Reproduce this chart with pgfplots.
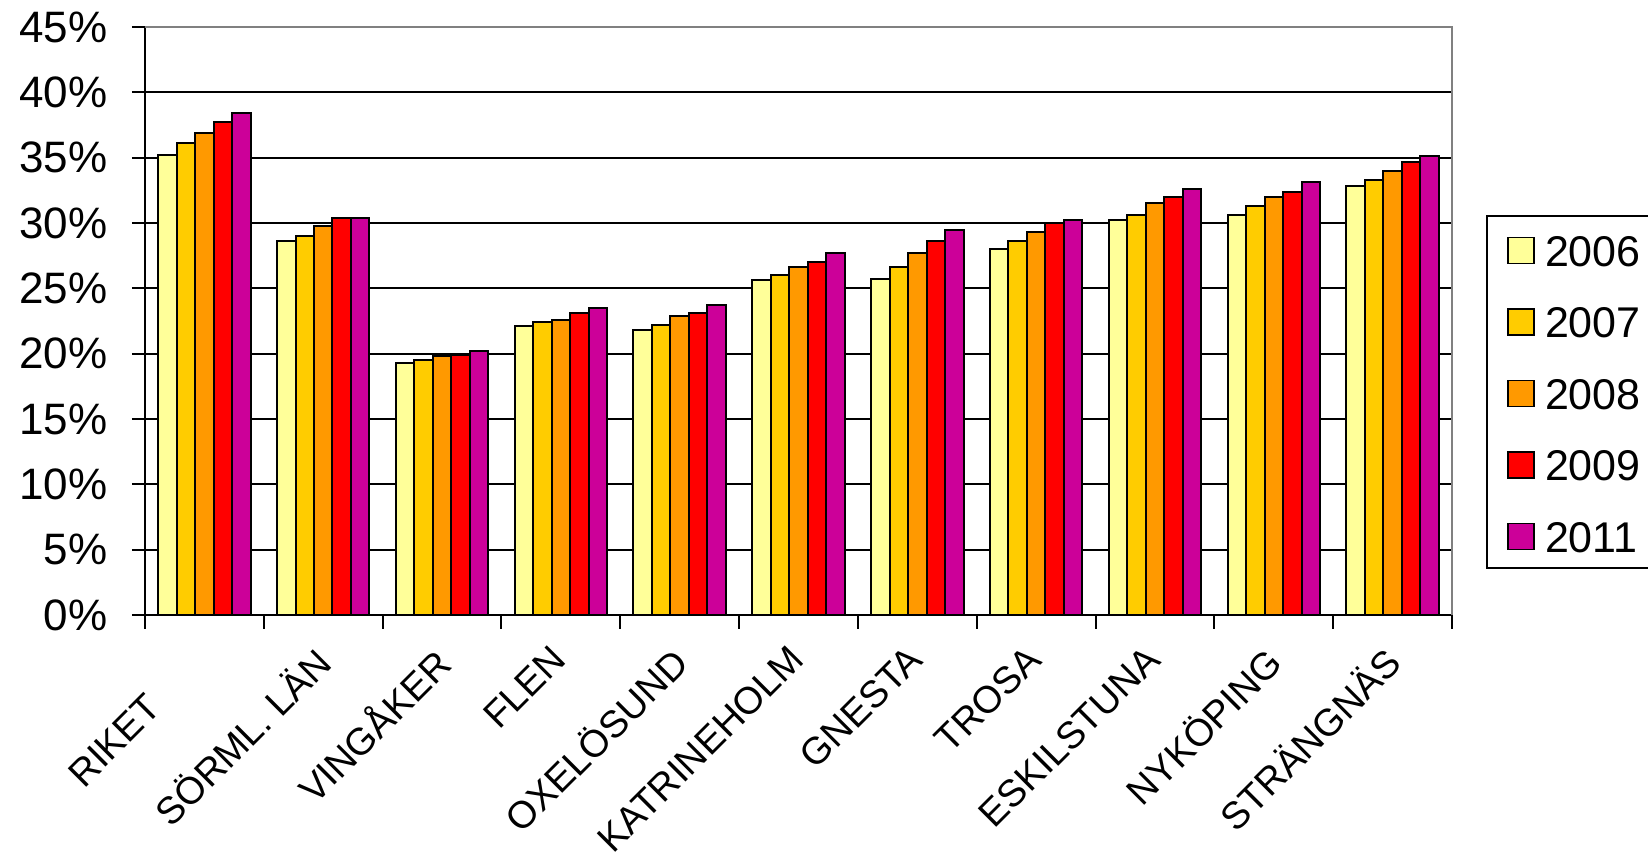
\documentclass[border=0pt]{standalone}
\usepackage{pgfplots}
\pgfplotsset{compat=1.18}
\usepackage{fontspec}
\setmainfont{Liberation Sans}
\definecolor{cA}{HTML}{FFFF99}
\definecolor{cB}{HTML}{FFCC00}
\definecolor{cC}{HTML}{FF9900}
\definecolor{cD}{HTML}{FF0000}
\definecolor{cE}{HTML}{CC0099}
\begin{document}
\begin{tikzpicture}
\useasboundingbox (-72.5pt,-123pt) rectangle (751.5pt,307.5pt);
\begin{axis}[
  at={(0,0)}, anchor=south west,
  scale only axis, width=653.5pt, height=294pt,
  xmin=-0.5, xmax=10.5, ymin=0, ymax=45,
  clip=false,
  ybar, bar width=0.1555,
  axis x line*=bottom, axis y line*=left,
  axis line style={black, line width=1pt},
  xtick={0,...,10},
  xticklabels={RIKET\hspace{34pt}\null,SÖRML. LÄN,VINGÅKER,FLEN,OXELÖSUND,KATRINEHOLM,GNESTA,TROSA,ESKILSTUNA,NYKÖPING,STRÄNGNÄS},
  major x tick style={draw=none},
  minor xtick={-0.5,0.5,...,10.5},
  minor tick length=7pt,
  xtick align=outside,
  x tick style={black, line width=1pt},
  ytick={0,5,...,45},
  yticklabels={0\%,5\%,10\%,15\%,20\%,25\%,30\%,35\%,40\%,45\%},
  ytick align=center,
  major tick length=13pt,
  y tick style={black, line width=1pt},
  ymajorgrids, grid style={black, line width=1pt},
  yticklabel style={font=\fontsize{22}{26}\selectfont, anchor=east, inner sep=0pt, xshift=-12.1pt},
  xticklabel style={font=\fontsize{19}{22}\selectfont, inner sep=0pt, xshift=-5.8pt, yshift=-1pt, rotate=45, anchor=north east},
  legend style={at={(axis description cs:1.0268,0.6786)}, anchor=north west,
    draw=none, fill=none, inner xsep=10pt, inner ysep=9pt, row sep=19.75pt,
    font=\fontsize{21.5}{24}\selectfont,
    nodes={inner sep=0pt, text height=16pt, text depth=0pt},
    /tikz/every odd column/.append style={column sep=5pt}},
  legend cell align=left,
  legend image code/.code={\draw[#1, draw=black, line width=0.8pt] (0pt,-6.5pt) rectangle (13pt,6.5pt);},
  every axis plot/.append style={draw=black, line width=1pt},
]
\addplot[fill=cA, bar shift=-0.311] coordinates {(0,35.2) (1,28.6) (2,19.3) (3,22.1) (4,21.8) (5,25.6) (6,25.7) (7,28.0) (8,30.2) (9,30.6) (10,32.8)};
\addplot[fill=cB, bar shift=-0.1555] coordinates {(0,36.1) (1,29.0) (2,19.5) (3,22.4) (4,22.2) (5,26.0) (6,26.6) (7,28.6) (8,30.6) (9,31.3) (10,33.3)};
\addplot[fill=cC, bar shift=0] coordinates {(0,36.9) (1,29.8) (2,19.8) (3,22.6) (4,22.9) (5,26.6) (6,27.7) (7,29.3) (8,31.5) (9,32.0) (10,34.0)};
\addplot[fill=cD, bar shift=0.1555] coordinates {(0,37.7) (1,30.4) (2,19.9) (3,23.1) (4,23.1) (5,27.0) (6,28.6) (7,30.0) (8,32.0) (9,32.4) (10,34.7)};
\addplot[fill=cE, bar shift=0.311] coordinates {(0,38.4) (1,30.4) (2,20.2) (3,23.5) (4,23.7) (5,27.7) (6,29.5) (7,30.2) (8,32.6) (9,33.1) (10,35.1)};
\legend{2006,2007,2008,2009,2011}
\draw[black!50, line width=1pt] (rel axis cs:0,1) -- (rel axis cs:1,1) -- (rel axis cs:1,0);
\draw[black, line width=1pt] (axis description cs:1.0268,0.6786) rectangle (axis description cs:1.3,0.0799);
\end{axis}
\end{tikzpicture}
\end{document}
